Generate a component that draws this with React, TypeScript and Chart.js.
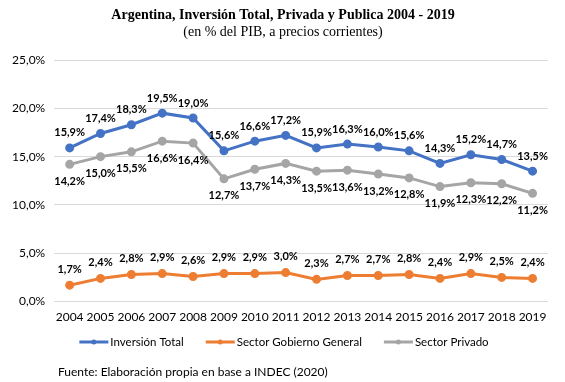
import React, { useEffect, useRef } from "react";
import { Chart, registerables } from "chart.js";

Chart.register(...registerables);

const years = ["2004","2005","2006","2007","2008","2009","2010","2011","2012","2013","2014","2015","2016","2017","2018","2019"];
const inversionTotal = [15.9,17.4,18.3,19.5,19.0,15.6,16.6,17.2,15.9,16.3,16.0,15.6,14.3,15.2,14.7,13.5];
const sectorGobierno = [1.7,2.4,2.8,2.9,2.6,2.9,2.9,3.0,2.3,2.7,2.7,2.8,2.4,2.9,2.5,2.4];
const sectorPrivado = [14.2,15.0,15.5,16.6,16.4,12.7,13.7,14.3,13.5,13.6,13.2,12.8,11.9,12.3,12.2,11.2];
const labelOffsets = [-15, -16, 17];

const titleText = "Argentina, Inversión Total, Privada y Publica 2004 - 2019";
const subtitleText = "(en % del PIB, a precios corrientes)";
const footerText = "Fuente: Elaboración propia en base a INDEC (2020)";

const fmt = (v: number) => v.toFixed(1).replace(".", ",") + "%";
const FONT = "Lato, 'Open Sans', sans-serif";
const SERIF = "'Liberation Serif', serif";

const dataLabels = {
  id: "dataLabels",
  afterDatasetsDraw(chart: any) {
    const ctx = chart.ctx;
    ctx.save();
    ctx.font = `bold 11px ${FONT}`;
    ctx.fillStyle = "#000";
    ctx.textAlign = "center";
    ctx.textBaseline = "middle";
    chart.data.datasets.forEach((ds: any, i: number) => {
      const meta = chart.getDatasetMeta(i);
      meta.data.forEach((pt: any, j: number) => {
        ctx.fillText(fmt(ds.data[j]), pt.x, pt.y + labelOffsets[i]);
      });
    });
    ctx.restore();
  },
};

const decorations = {
  id: "decorations",
  afterDraw(chart: any) {
    const ctx = chart.ctx;
    ctx.save();
    ctx.fillStyle = "#000";
    ctx.textBaseline = "middle";
    ctx.textAlign = "center";
    ctx.font = `bold 14px ${SERIF}`;
    ctx.fillText(titleText, 283, 15);
    ctx.font = `14px ${SERIF}`;
    ctx.fillText(subtitleText, 283, 32);

    ctx.font = `11.5px ${FONT}`;
    ctx.textAlign = "left";
    const lineW = 29, gapText = 2, gapItem = 22, y = 342;
    const items = chart.data.datasets.map((ds: any) => ({
      text: ds.label,
      color: ds.borderColor,
      w: lineW + gapText + ctx.measureText(ds.label).width,
    }));
    const total = items.reduce((s: number, it: any) => s + it.w, 0) + gapItem * (items.length - 1);
    let x = 284 - total / 2;
    items.forEach((it: any) => {
      ctx.strokeStyle = it.color;
      ctx.lineWidth = 3;
      ctx.beginPath();
      ctx.moveTo(x, y);
      ctx.lineTo(x + lineW, y);
      ctx.stroke();
      ctx.fillStyle = it.color;
      ctx.beginPath();
      ctx.arc(x + lineW / 2, y, 2.5, 0, Math.PI * 2);
      ctx.fill();
      ctx.fillStyle = "#000";
      ctx.fillText(it.text, x + lineW + gapText, y);
      x += it.w + gapItem;
    });
    ctx.font = `12px ${FONT}`;
    ctx.fillText(footerText, 58, 372);
    ctx.restore();
  },
};

export default function App() {
  const ref = useRef<HTMLCanvasElement>(null);
  useEffect(() => {
    document.body.style.margin = "0";
    const mk = (label: string, data: number[], color: string) => ({
      label,
      data,
      borderColor: color,
      backgroundColor: color,
      borderWidth: 3,
      pointRadius: 3,
      pointBackgroundColor: color,
      pointBorderColor: color,
      tension: 0,
    });
    const chart = new Chart(ref.current!, {
      type: "line",
      data: {
        labels: years,
        datasets: [
          mk("Inversión Total", inversionTotal, "#4472C4"),
          mk("Sector Gobierno General", sectorGobierno, "#ED7D31"),
          mk("Sector Privado", sectorPrivado, "#A5A5A5"),
        ],
      },
      options: {
        animation: false,
        responsive: false,
        layout: { padding: { left: 3, right: 17, top: 60, bottom: 58 } },
        plugins: {
          title: { display: false },
          subtitle: { display: false },
          legend: { display: false },
          tooltip: { enabled: false },
        },
        scales: {
          x: {
            offset: true,
            grid: { display: false },
            border: { display: false },
            ticks: { color: "#000", font: { family: FONT, size: 12 }, maxRotation: 0, autoSkip: false, padding: 0 },
          },
          y: {
            min: 0,
            max: 25,
            ticks: {
              stepSize: 5,
              color: "#000",
              font: { family: FONT, size: 12 },
              callback: (v: any) => fmt(Number(v)),
              padding: 9,
            },
            grid: { color: "#D9D9D9", drawTicks: false },
            border: { display: false },
          },
        },
      },
      plugins: [dataLabels, decorations],
    });
    return () => chart.destroy();
  }, []);
  return <canvas ref={ref} width={565} height={382} style={{ display: "block" }} />;
}
